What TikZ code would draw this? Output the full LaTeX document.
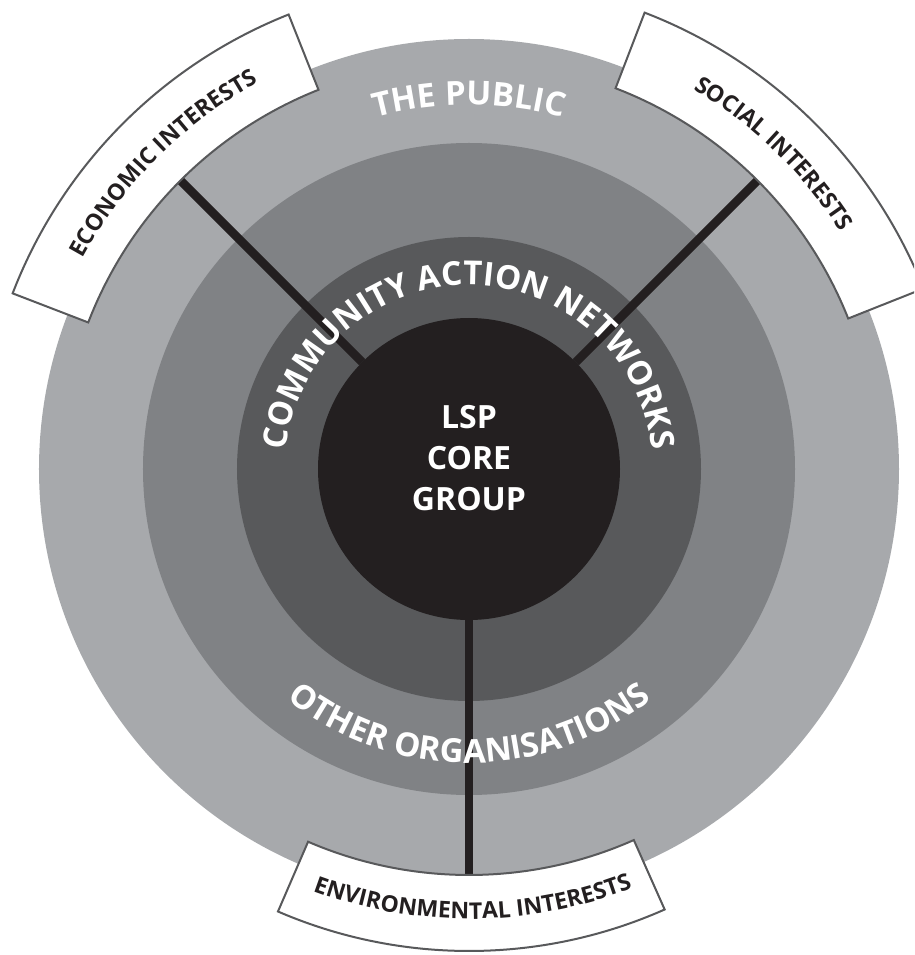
\documentclass[tikz,border=0pt]{standalone}
\usepackage{fontspec}
\setmainfont{Open Sans}
\usetikzlibrary{decorations.text}
\definecolor{ringA}{HTML}{A7A9AC}
\definecolor{ringB}{HTML}{808285}
\definecolor{ringC}{HTML}{58595B}
\definecolor{coreC}{HTML}{231F20}
\definecolor{edgeC}{HTML}{58595B}
\newcommand\ringfont{\bfseries\fontsize{33}{33}\selectfont}
\newcommand\boxfont{\bfseries\fontsize{23}{23}\selectfont}
\newcommand\interestbox[3]{%
  \draw[interest] ({#1-23.65}:#2) arc[start angle={#1-23.65}, end angle={#1+23.65}, radius=#2]
    -- ({#1+23.65}:#3) arc[start angle={#1+23.65}, end angle={#1-23.65}, radius=#3] -- cycle;}
\begin{document}
\begin{tikzpicture}[x=1pt,y=1pt,
  ring/.style={circle, inner sep=0pt, outer sep=0pt, draw=none},
  divider/.style={line width=8.5pt, draw=coreC},
  interest/.style={fill=white, draw=edgeC, line width=2pt},
  ringtext/.style={decorate, decoration={text along path, text align=center, text color=white, text={|\ringfont|#1}}},
  boxtext/.style={decorate, decoration={text along path, text align=center, text color=coreC, text={|\boxfont|#1}}},
]
\useasboundingbox (-469,-486) rectangle (445,469);
\clip (-469,-486) rectangle (445,469);
% rings
\node[ring, fill=ringA, minimum size=860pt] (public) at (0,0) {};
\node[ring, fill=ringB, minimum size=652pt] (orgs) at (0,0) {};
\node[ring, fill=ringC, minimum size=464pt] (can) at (0,0) {};
\node[ring, fill=coreC, minimum size=302pt] (core) at (0,0) {};
% dividers
\coordinate (econ) at (135:410);
\coordinate (soc) at (45:410);
\coordinate (env) at (270:410);
\draw[divider] (core.135) -- (econ);
\draw[divider] (core.45) -- (soc);
\draw[divider] (core.270) -- (env);
% interest boxes
\interestbox{135.3}{408}{489}
\interestbox{45.3}{408}{489}
\interestbox{270.3}{406}{482}
% ring labels
\path[ringtext={THE PUBLIC}] (150:364) arc[start angle=150, end angle=30, radius=364];
\path[ringtext={COMMUNITY ACTION NETWORKS}] (200:184) arc[start angle=200, end angle=-20, radius=184];
\path[ringtext={OTHER ORGANISATIONS}] (200:294) arc[start angle=200, end angle=340, radius=294];
% box labels
\path[boxtext={ECONOMIC INTERESTS}] (175:440) arc[start angle=175, end angle=95, radius=440];
\path[boxtext={SOCIAL INTERESTS}] (86:441) arc[start angle=86, end angle=6, radius=441];
\path[boxtext={ENVIRONMENTAL INTERESTS}] (220.5:450) arc[start angle=220.5, end angle=320.5, radius=450];
% core label
\node[text=white, font=\bfseries\fontsize{32}{41}\selectfont, align=center, inner sep=0pt] (lsp) at (0,10.5) {LSP\\CORE\\GROUP};
\end{tikzpicture}
\end{document}
